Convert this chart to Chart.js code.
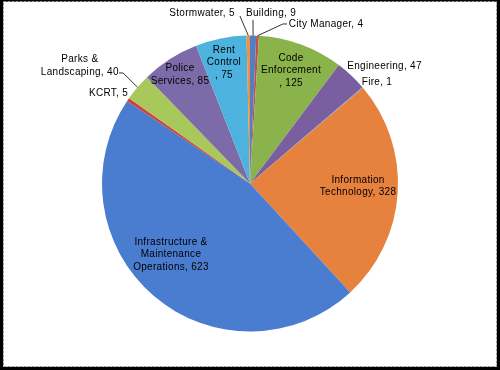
<!DOCTYPE html>
<html>
<head>
<meta charset="utf-8">
<script src="https://cdn.jsdelivr.net/npm/chart.js@4/dist/chart.umd.min.js"></script>
<style>
html,body{margin:0;padding:0;background:#fff;}
#wrap{position:absolute;left:0;top:0;width:500px;height:370px;}
</style>
</head>
<body>
<div id="wrap"><canvas id="c" width="500" height="370"></canvas></div>
<script>
// ---- data ----
const categories = ["Building","City Manager","Code Enforcement","Engineering","Fire",
  "Information Technology","Infrastructure & Maintenance Operations","KCRT",
  "Parks & Landscaping","Police Services","Rent Control","Stormwater"];
const values = [9,4,125,47,1,328,623,5,40,85,75,5];
// label text lines (category wrapped as in the picture)
const labelLines = [
  ["Building, 9"],
  ["City Manager, 4"],
  ["Code","Enforcement",", 125"],
  ["Engineering, 47"],
  ["Fire, 1"],
  ["Information","Technology, 328"],
  ["Infrastructure &","Maintenance","Operations, 623"],
  ["KCRT, 5"],
  ["Parks &","Landscaping, 40"],
  ["Police","Services, 85"],
  ["Rent","Control",", 75"],
  ["Stormwater, 5"]
];

// ---- styles ----
const colors = ["#4F7FC4","#C0504D","#8BB34C","#7A5FA0","#4BAED6","#E6823E",
                "#4A7DD0","#D0403D","#A8C85C","#7D6AA8","#4DB3DE","#F09040"];
// label block centre, in units of the pie radius from the pie centre
const labelPos = [
  [0.142,-1.152],[0.514,-1.078],[0.277,-0.764],[0.909,-0.794],[0.858,-0.686],
  [0.730,0.017],[-0.534,0.480],[-0.956,-0.611],[-1.150,-0.794],[-0.473,-0.736],
  [-0.176,-0.818],[-0.324,-1.152]
];
// leader lines: start points (radius units); end is computed on the slice's outer edge
const leaders = {
  11: [[-0.068,-1.132]],
  0:  [[0.020,-1.105]],
  1:  [[0.250,-1.078],[0.223,-1.078]],
  8:  [[-0.885,-0.747],[-0.858,-0.747]]
};

const framePlugin = {
  id:'frame',
  beforeDraw(chart){
    const ctx = chart.ctx;
    ctx.save();
    ctx.fillStyle = '#000';
    ctx.fillRect(0,0,500,370);
    ctx.fillStyle = '#fff';
    ctx.fillRect(3,2,494,365);
    ctx.strokeStyle = '#9a9a9a';
    ctx.setLineDash([3,1]);
    ctx.lineWidth = 1;
    ctx.strokeRect(3.5,1.5,493,365);
    ctx.restore();
  }
};

const labelPlugin = {
  id:'labels',
  afterDatasetsDraw(chart){
    const ctx = chart.ctx;
    const meta = chart.getDatasetMeta(0);
    const a0 = meta.data[0];
    const cx = a0.x, cy = a0.y, R = a0.outerRadius;
    ctx.save();
    // leader lines
    ctx.strokeStyle = '#000';
    ctx.lineWidth = 0.8;
    Object.keys(leaders).forEach(k=>{
      const arc = meta.data[+k];
      const mid = (arc.startAngle + arc.endAngle)/2;
      const ex = cx + Math.cos(mid)*R, ey = cy + Math.sin(mid)*R;
      ctx.beginPath();
      leaders[k].forEach((p,i)=>{
        const x = cx + p[0]*R, y = cy + p[1]*R;
        if(i===0) ctx.moveTo(x,y); else ctx.lineTo(x,y);
      });
      ctx.lineTo(ex,ey);
      ctx.stroke();
    });
    // text
    ctx.fillStyle = '#000';
    ctx.font = '10px "Liberation Sans", Arial, sans-serif';
    try { ctx.letterSpacing = '0.3px'; } catch(e) {}
    ctx.textAlign = 'center';
    ctx.textBaseline = 'middle';
    const lh = 12.5;
    labelLines.forEach((lines,i)=>{
      const x = cx + labelPos[i][0]*R;
      const y = cy + labelPos[i][1]*R;
      const y0 = y - (lines.length-1)*lh/2;
      lines.forEach((t,j)=> ctx.fillText(t, x, y0 + j*lh));
    });
    ctx.restore();
  }
};

new Chart(document.getElementById('c'), {
  type:'pie',
  data:{
    labels: categories,
    datasets:[{
      data: values,
      backgroundColor: colors,
      borderWidth: 0
    }]
  },
  options:{
    responsive:false,
    animation:false,
    rotation:0,
    layout:{padding:{top:35,bottom:38,left:102,right:102}},
    plugins:{legend:{display:false},tooltip:{enabled:false}}
  },
  plugins:[framePlugin,labelPlugin]
});
</script>
</body>
</html>
